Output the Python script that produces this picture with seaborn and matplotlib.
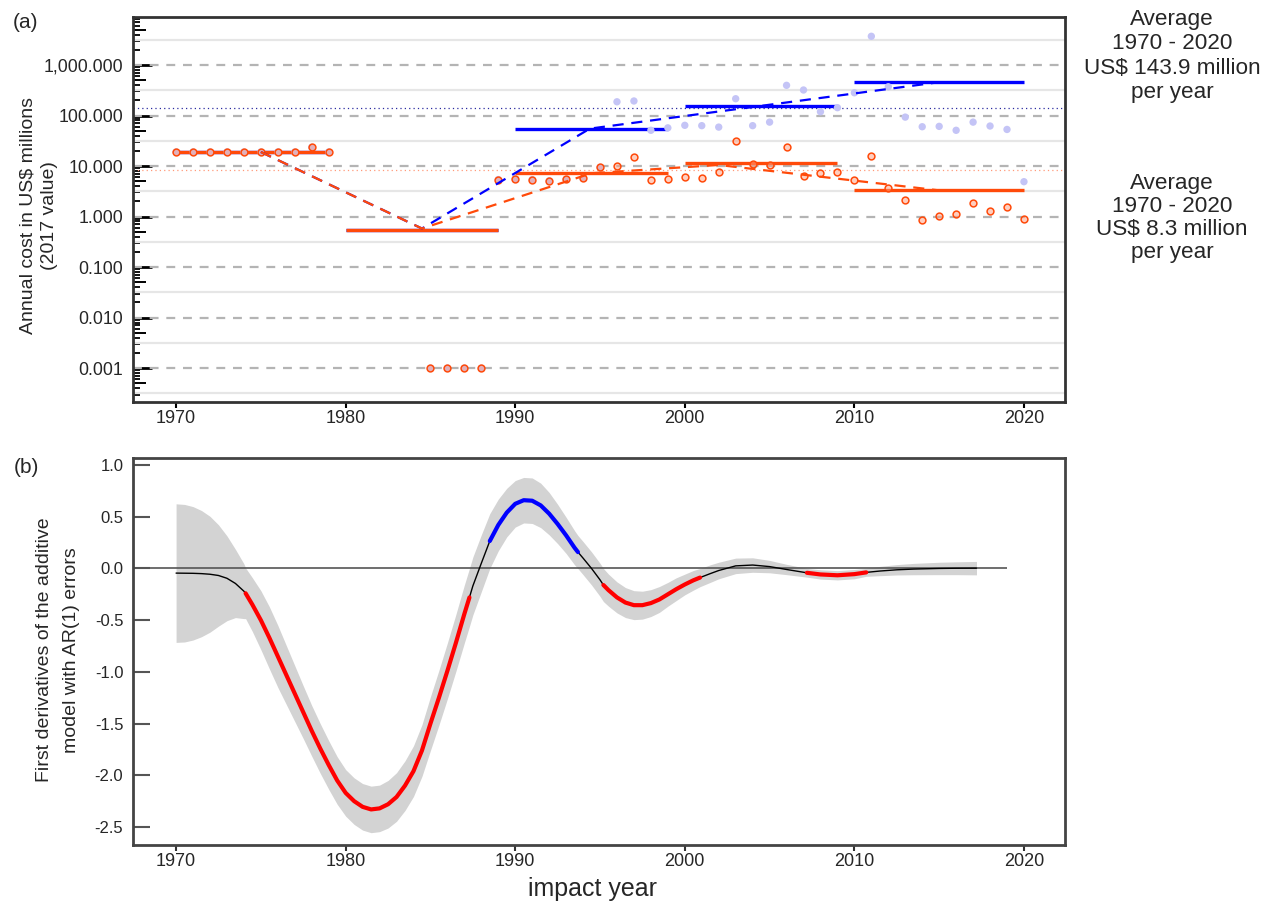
import numpy as np
import matplotlib
matplotlib.use("Agg")
import matplotlib.pyplot as plt
import matplotlib.ticker as mticker
import seaborn as sns

# ---------------- data: panel (a) ----------------
years = list(range(1970, 2021))
# local cost (orange), US$ millions; NaN = no cost
local_cost = [19, 19, 19, 19, 19, 19, 19, 19, 23.5, 19,
              np.nan, np.nan, np.nan, np.nan, np.nan, 0.001, 0.001, 0.001, 0.001, 5.4,
              5.6, 5.4, 5.1, 5.45, 5.7, 9.4, 9.9, 15.3, 5.3, 5.5,
              6.1, 5.9, 7.6, 30.8, 10.8, 10.3, 23.8, 6.4, 7.3, 7.7,
              5.4, 15.8, 3.6, 2.15, 0.86, 1.04, 1.12, 1.85, 1.3, 1.54, 0.89]
# total cost (blue), US$ millions
total_cost = [19, 19, 19, 19, 19, 19, 19, 19, 23.5, 19,
              np.nan, np.nan, np.nan, np.nan, np.nan, 0.001, 0.001, 0.001, 0.001, 5.4,
              5.6, 5.4, 5.1, 5.45, 5.7, 9.4, 187, 194, 51, 57,
              64, 63, 59, 215, 63, 74, 396, 320, 119, 143,
              282, 3700, 371, 93, 60, 61, 51, 74, 62, 53, 4.9]

decade_start = [1970, 1980, 1990, 2000, 2010]
decade_end = [1979, 1989, 1999, 2009, 2020]
decade_mean_local = [19.3, 0.55, 7.4, 11.7, 3.3]
decade_mean_total = [19.3, 0.55, 53, 152, 460]

trend_local_years = [1975, 1984.5, 1994.5, 2002, 2015]
trend_local_vals = [19, 0.58, 7.2, 10.5, 3.3]
trend_total_years = [1975, 1984.5, 1994.4, 2015]
trend_total_vals = [19, 0.58, 55, 457]

avg_total = 143.9
avg_local = 8.3

ytick_vals = [0.001, 0.01, 0.1, 1, 10, 100, 1000]
ytick_labels = ["0.001", "0.010", "0.100", "1.000", "10.000", "100.000", "1,000.000"]
xtick_vals = [1970, 1980, 1990, 2000, 2010, 2020]

# ---------------- data: panel (b) ----------------
deriv_years = [1970.0, 1970.5, 1971.0, 1971.5, 1972.0, 1972.5, 1973.0, 1973.5, 1974.0, 1974.1,
               1974.5, 1975.0, 1975.5, 1976.0, 1976.5, 1977.0, 1977.5, 1978.0, 1978.5, 1979.0,
               1979.5, 1980.0, 1980.5, 1981.0, 1981.5, 1982.0, 1982.5, 1983.0, 1983.5, 1984.0,
               1984.5, 1985.0, 1985.5, 1986.0, 1986.5, 1987.0, 1987.3, 1987.5, 1988.0, 1988.5,
               1989.0, 1989.5, 1990.0, 1990.5, 1991.0, 1991.5, 1992.0, 1992.5, 1993.0, 1993.5,
               1993.7, 1994.0, 1994.5, 1995.0, 1995.2, 1995.5, 1996.0, 1996.5, 1997.0, 1997.5,
               1998.0, 1998.5, 1999.0, 1999.5, 2000.0, 2000.5, 2000.9, 2001.5, 2002.0, 2003.0,
               2004.0, 2005.0, 2006.0, 2007.2, 2008.0, 2009.0, 2010.0, 2010.7, 2011.5, 2012.5,
               2013.5, 2015.0, 2016.0, 2017.2]
deriv_vals = [-0.045, -0.046, -0.047, -0.050, -0.056, -0.068, -0.095, -0.145, -0.220, -0.240,
              -0.350, -0.500, -0.670, -0.850, -1.030, -1.210, -1.390, -1.570, -1.740, -1.900,
              -2.050, -2.170, -2.250, -2.305, -2.330, -2.320, -2.280, -2.210, -2.100, -1.960,
              -1.760, -1.500, -1.250, -0.990, -0.720, -0.440, -0.280, -0.170, 0.050, 0.265,
              0.420, 0.540, 0.625, 0.660, 0.655, 0.610, 0.530, 0.430, 0.320, 0.200,
              0.158, 0.100, 0.000, -0.110, -0.160, -0.210, -0.280, -0.330, -0.355, -0.355,
              -0.335, -0.300, -0.250, -0.200, -0.155, -0.115, -0.088, -0.050, -0.020, 0.025,
              0.033, 0.018, -0.010, -0.042, -0.058, -0.066, -0.055, -0.038, -0.025, -0.013,
              -0.006, 0.000, 0.002, 0.003]
ci_halfwidth = [0.67, 0.665, 0.645, 0.61, 0.56, 0.49, 0.41, 0.33, 0.265, 0.245,
                0.26, 0.285, 0.30, 0.30, 0.285, 0.27, 0.255, 0.245, 0.24, 0.235,
                0.23, 0.225, 0.225, 0.225, 0.225, 0.225, 0.23, 0.235, 0.24, 0.245,
                0.25, 0.26, 0.265, 0.27, 0.275, 0.28, 0.28, 0.28, 0.275, 0.265,
                0.25, 0.235, 0.225, 0.22, 0.22, 0.215, 0.205, 0.19, 0.175, 0.165,
                0.16, 0.16, 0.16, 0.16, 0.16, 0.155, 0.15, 0.145, 0.14, 0.135,
                0.13, 0.125, 0.115, 0.11, 0.10, 0.095, 0.088, 0.085, 0.08, 0.075,
                0.07, 0.06, 0.05, 0.042, 0.045, 0.045, 0.045, 0.038, 0.045, 0.05,
                0.055, 0.06, 0.062, 0.065]
sig_decrease = [(1974.1, 1987.3), (1995.2, 2000.9), (2007.2, 2010.7)]
sig_increase = [(1988.5, 1993.7)]
zero_line_end = 2019
ytick_b = [1.0, 0.5, 0.0, -0.5, -1.0, -1.5, -2.0, -2.5]

# ---------------- style ----------------
sns.set_theme(style="white")
plt.rcParams["font.family"] = ["Liberation Sans", "DejaVu Sans"]
narrow = ["Liberation Sans Narrow", "Liberation Sans", "DejaVu Sans"]

W, H = 1270, 902
fig = plt.figure(figsize=(W / 100, H / 100), dpi=100)
ax1 = fig.add_axes([133 / W, 1 - 402 / H, (1065 - 133) / W, (402 - 17) / H])
ax2 = fig.add_axes([133 / W, 1 - 845 / H, (1065 - 133) / W, (845 - 458) / H])
XLIM = (1967.46, 2022.42)

ORANGE = "#ff4a0a"
BLUE = "#0000ff"

# ---------------- panel (a) ----------------
ax1.set_yscale("log")
ax1.set_xlim(*XLIM)
ax1.set_ylim(10 ** -3.67, 10 ** 3.95)

for v in ytick_vals:
    ax1.axhline(v, color="#b4b4b4", lw=1.6, dashes=(4, 3.5), zorder=1)
for v in [10 ** -3.5] + [t * 10 ** 0.5 for t in ytick_vals]:
    ax1.axhline(v, color="#e6e6e6", lw=1.6, zorder=0.8)

ax1.axhline(avg_total, color="#2a2aa0", lw=0.9, ls=(0, (1, 2.5)), zorder=1.5)
ax1.axhline(avg_local, color="#ff9a7a", lw=0.9, ls=(0, (1, 2.5)), zorder=1.5)

ax1.hlines(decade_mean_total, decade_start, decade_end, color=BLUE, lw=2.4, zorder=3)
ax1.hlines(decade_mean_local, decade_start, decade_end, color=ORANGE, lw=2.4, zorder=3.1)

sns.scatterplot(x=years, y=total_cost, ax=ax1, color="#c4c4f6", s=28,
                edgecolor="none", linewidth=0, legend=False, zorder=4)
sns.scatterplot(x=years, y=local_cost, ax=ax1, color=(1.0, 0.62, 0.5, 0.5), s=24,
                edgecolor=ORANGE, linewidth=1.1, legend=False, zorder=4.5)

ax1.plot(trend_total_years, trend_total_vals, color=BLUE, lw=1.6, dashes=(5, 3.5), zorder=5)
ax1.plot(trend_local_years, trend_local_vals, color=ORANGE, lw=1.6, dashes=(5, 3.5), zorder=5.1)

ax1.set_yticks(ytick_vals, ytick_labels)
ax1.yaxis.set_minor_locator(mticker.LogLocator(base=10, subs=[2, 3, 4, 6, 7, 8, 9], numticks=30))
ax1.yaxis.set_minor_formatter(mticker.NullFormatter())
ax1.set_xticks(xtick_vals)
ax1.tick_params(axis="y", which="major", direction="in", length=14, width=2,
                color="black", labelsize=12.8, pad=7, left=True)
ax1.tick_params(axis="y", which="minor", direction="in", length=5, width=1.3,
                color="black", left=True)
ax1.tick_params(axis="x", which="major", direction="out", length=4, width=1.5,
                color="black", pad=1.5, bottom=True)
for lab in ax1.get_xticklabels():
    lab.set_family(narrow)
    lab.set_fontsize(13)

sec = ax1.secondary_yaxis("left")
sec.set_yticks([5 * 10.0 ** k for k in range(-4, 4)])
sec.yaxis.set_major_formatter(mticker.NullFormatter())
sec.yaxis.set_minor_locator(mticker.NullLocator())
sec.tick_params(axis="y", direction="in", length=9, width=1.4, color="black")
sec.spines["left"].set_visible(False)

for sp in ax1.spines.values():
    sp.set_color("#333333")
    sp.set_linewidth(2)
ax1.set_xlabel("")
ax1.set_ylabel("")

# ---------------- panel (b) ----------------
t = np.array(deriv_years)
d = np.array(deriv_vals)
hw = np.array(ci_halfwidth)
ax2.set_xlim(*XLIM)
ax2.set_ylim(-2.674, 1.068)
ax2.fill_between(t, d - hw, d + hw, color="#d3d3d3", lw=0, zorder=1)
ax2.hlines(0, XLIM[0], zero_line_end, color="#555555", lw=1.2, zorder=2)
sns.lineplot(x=t, y=d, ax=ax2, color="black", lw=1.0, estimator=None, sort=False, zorder=3)
for a, b in sig_decrease:
    m = (t >= a - 1e-9) & (t <= b + 1e-9)
    sns.lineplot(x=t[m], y=d[m], ax=ax2, color="#ff0000", lw=3.0, estimator=None,
                 sort=False, zorder=4)
for a, b in sig_increase:
    m = (t >= a - 1e-9) & (t <= b + 1e-9)
    sns.lineplot(x=t[m], y=d[m], ax=ax2, color="#0000ff", lw=3.0, estimator=None,
                 sort=False, zorder=4)

ax2.set_yticks(ytick_b, [f"{v:.1f}" for v in ytick_b])
ax2.set_xticks(xtick_vals)
ax2.tick_params(axis="y", direction="in", length=12, width=1.5, color="#555555",
                labelsize=12, pad=7, left=True)
ax2.tick_params(axis="x", direction="out", length=4, width=1.5, color="#333333",
                pad=1.5, bottom=True)
for lab in ax2.get_xticklabels():
    lab.set_family(narrow)
    lab.set_fontsize(13)
for sp in ax2.spines.values():
    sp.set_color("#444444")
    sp.set_linewidth(2)
ax2.set_xlabel("")
ax2.set_ylabel("")

# ---------------- texts ----------------
fig.text(26 / W, 1 - 22 / H, "(a)", fontsize=15, ha="center", va="center")
fig.text(26 / W, 1 - 468 / H, "(b)", fontsize=15, ha="center", va="center")
fig.text(39 / W, 1 - 216 / H, "Annual cost in US\\$ millions\n(2017 value)", rotation=90,
         fontsize=14, ha="center", va="center", ma="center", linespacing=1.35)
fig.text(58 / W, 1 - 650 / H, "First derivatives of the additive\nmodel with AR(1) errors",
         rotation=90, fontsize=14, ha="center", va="center", ma="center", linespacing=1.75)
fig.text(1172 / W, 1 - 56 / H, "Average\n1970 - 2020\nUS\\$ 143.9 million\nper year",
         fontsize=16.2, ha="center", va="center", ma="center", linespacing=1.2)
fig.text(1172 / W, 1 - 218 / H, "Average\n1970 - 2020\nUS\\$ 8.3 million\nper year",
         fontsize=16.2, ha="center", va="center", ma="center", linespacing=1.13)
fig.text(593 / W, 1 - 889 / H, "impact year", fontsize=18, ha="center", va="center",
         family=narrow)

fig.savefig("out.png", dpi=100)
